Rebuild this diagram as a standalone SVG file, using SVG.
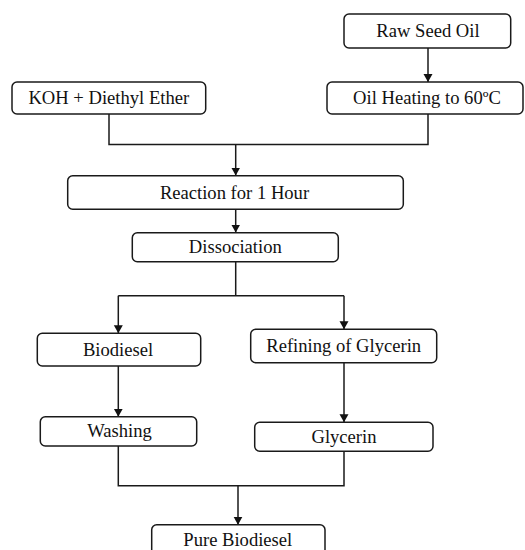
<svg xmlns="http://www.w3.org/2000/svg" width="525" height="550" viewBox="0 0 525 550">
<style>
.box{fill:#fff;stroke:#1a1a1a;stroke-width:1.5}
.t{font-family:"Liberation Serif","Times New Roman",serif;font-size:18.6px;fill:#111;text-anchor:middle}
.c{fill:none;stroke:#1a1a1a;stroke-width:1.5}
</style>
<defs>
<marker id="ah" markerWidth="10" markerHeight="10" refX="8" refY="4.5" orient="auto" markerUnits="userSpaceOnUse">
<path d="M0,0 L8,4.5 L0,9 Z" fill="#111"/>
</marker>
</defs>
<rect width="525" height="550" fill="#fff"/>
<g id="connectors">
<path class="c" d="M428,48 V82" marker-end="url(#ah)"/>
<path class="c" d="M109,114 V144.5 H428 V114"/>
<path class="c" d="M235.7,144.5 V175.5" marker-end="url(#ah)"/>
<path class="c" d="M235.7,209.3 V232.5" marker-end="url(#ah)"/>
<path class="c" d="M235.7,261.7 V295.7 M118.3,295.7 H344"/>
<path class="c" d="M118.3,295.7 V333.3" marker-end="url(#ah)"/>
<path class="c" d="M344,295.7 V329.3" marker-end="url(#ah)"/>
<path class="c" d="M118.3,366 V416.7" marker-end="url(#ah)"/>
<path class="c" d="M344,362.7 V422.3" marker-end="url(#ah)"/>
<path class="c" d="M118.3,446 V485.7 H344 V451.3"/>
<path class="c" d="M238,485.7 V524.7" marker-end="url(#ah)"/>
</g>
<g id="raw-seed-oil"><rect class="box" x="344" y="14" width="166.7" height="34" rx="5"/><text class="t" x="428" y="37">Raw Seed Oil</text></g>
<g id="koh"><rect class="box" x="12" y="82" width="193.7" height="32" rx="5"/><text class="t" x="108.8" y="104">KOH + Diethyl Ether</text></g>
<g id="oil-heating"><rect class="box" x="327" y="82" width="196" height="32" rx="5"/><text class="t" x="427" y="104">Oil Heating to 60ºC</text></g>
<g id="reaction"><rect class="box" x="67.7" y="175.7" width="335.6" height="33.6" rx="5"/><text class="t" x="234.5" y="199">Reaction for 1 Hour</text></g>
<g id="dissociation"><rect class="box" x="132.3" y="232.7" width="206" height="29" rx="5"/><text class="t" x="235.3" y="253">Dissociation</text></g>
<g id="biodiesel"><rect class="box" x="37.3" y="333.3" width="163.4" height="32.7" rx="5"/><text class="t" x="118" y="355.5">Biodiesel</text></g>
<g id="refining"><rect class="box" x="250.7" y="329.3" width="186" height="33.4" rx="5"/><text class="t" x="343.7" y="351.5">Refining of Glycerin</text></g>
<g id="washing"><rect class="box" x="40.3" y="416.7" width="156.4" height="29.3" rx="5"/><text class="t" x="119.5" y="436.5">Washing</text></g>
<g id="glycerin"><rect class="box" x="254.7" y="422.3" width="178.3" height="29" rx="5"/><text class="t" x="344" y="442.5">Glycerin</text></g>
<g id="pure-biodiesel"><rect class="box" x="151.7" y="524.7" width="173.3" height="40" rx="5"/><text class="t" x="237.8" y="545.5">Pure Biodiesel</text></g>
</svg>
